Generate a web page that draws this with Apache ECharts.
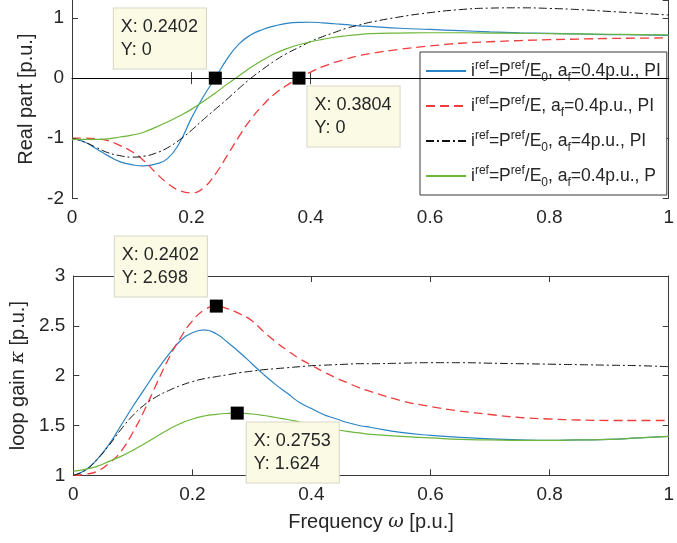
<!DOCTYPE html>
<html>
<head>
<meta charset="utf-8">
<script src="https://cdn.jsdelivr.net/npm/echarts@6/dist/echarts.min.js"></script>
<style>
  html, body { margin: 0; padding: 0; background: #ffffff; }
  #chart { width: 677px; height: 543px; }
</style>
</head>
<body>
<div id="chart"></div>
<script>
// Frequency grid [p.u.]
const freq = [0, 0.02, 0.04, 0.06, 0.08, 0.10, 0.12, 0.14, 0.16, 0.18,
              0.20, 0.22, 0.24, 0.26, 0.28, 0.30, 0.32, 0.34, 0.36, 0.38,
              0.40, 0.42, 0.44, 0.46, 0.48, 0.50, 0.55, 0.60, 0.65, 0.70,
              0.75, 0.80, 0.85, 0.90, 0.95, 1.00];

// Real part [p.u.]
const reBlue  = [-1.00, -1.06, -1.17, -1.29, -1.39, -1.44, -1.46, -1.43, -1.34, -1.08,
                 -0.67, -0.31, 0.00, 0.32, 0.57, 0.72, 0.81, 0.87, 0.91, 0.927,
                 0.93, 0.92, 0.905, 0.89, 0.87, 0.86, 0.83, 0.81, 0.79, 0.77,
                 0.755, 0.745, 0.735, 0.725, 0.72, 0.71];
const reRed   = [-1.00, -1.00, -1.01, -1.04, -1.12, -1.22, -1.37, -1.57, -1.75, -1.87,
                 -1.91, -1.83, -1.60, -1.29, -0.97, -0.68, -0.45, -0.26, -0.12, 0.00,
                 0.10, 0.19, 0.26, 0.32, 0.37, 0.41, 0.48, 0.535, 0.58, 0.605,
                 0.625, 0.64, 0.65, 0.66, 0.665, 0.67];
const reBlack = [-1.00, -1.06, -1.15, -1.24, -1.29, -1.315, -1.30, -1.25, -1.16, -1.03,
                 -0.87, -0.69, -0.52, -0.35, -0.17, 0.00, 0.15, 0.29, 0.41, 0.51,
                 0.61, 0.69, 0.76, 0.83, 0.88, 0.93, 1.02, 1.09, 1.14, 1.165,
                 1.17, 1.16, 1.14, 1.11, 1.08, 1.05];
const reGreen = [-1.02, -1.02, -1.02, -1.01, -0.98, -0.95, -0.90, -0.82, -0.73, -0.63,
                 -0.52, -0.39, -0.25, -0.10, 0.04, 0.18, 0.30, 0.41, 0.49, 0.555,
                 0.605, 0.645, 0.68, 0.705, 0.725, 0.74, 0.75, 0.755, 0.755, 0.75,
                 0.745, 0.74, 0.735, 0.73, 0.725, 0.72];

// Loop gain kappa [p.u.]
const kBlue  = [1.00, 1.05, 1.16, 1.31, 1.50, 1.69, 1.87, 2.05, 2.21, 2.35,
                2.43, 2.46, 2.42, 2.33, 2.23, 2.12, 2.01, 1.91, 1.82, 1.73,
                1.67, 1.61, 1.57, 1.53, 1.50, 1.48, 1.43, 1.40, 1.38, 1.365,
                1.355, 1.35, 1.355, 1.36, 1.375, 1.39];
const kRed   = [1.00, 1.01, 1.04, 1.12, 1.24, 1.43, 1.66, 1.92, 2.17, 2.38,
                2.55, 2.66, 2.698, 2.67, 2.62, 2.55, 2.44, 2.34, 2.25, 2.17,
                2.105, 2.04, 1.98, 1.93, 1.88, 1.84, 1.75, 1.69, 1.645, 1.61,
                1.58, 1.565, 1.555, 1.55, 1.55, 1.55];
const kBlack = [1.00, 1.05, 1.16, 1.30, 1.46, 1.60, 1.71, 1.79, 1.85, 1.90,
                1.94, 1.97, 1.99, 2.01, 2.03, 2.045, 2.06, 2.07, 2.08, 2.09,
                2.10, 2.105, 2.11, 2.115, 2.12, 2.12, 2.125, 2.13, 2.13, 2.125,
                2.12, 2.115, 2.11, 2.105, 2.10, 2.09];
const kGreen = [1.04, 1.06, 1.09, 1.14, 1.19, 1.25, 1.32, 1.39, 1.46, 1.52,
                1.565, 1.595, 1.612, 1.621, 1.624, 1.615, 1.60, 1.58, 1.56, 1.535,
                1.51, 1.485, 1.46, 1.44, 1.425, 1.41, 1.39, 1.375, 1.36, 1.355,
                1.35, 1.35, 1.355, 1.36, 1.375, 1.39];

// Data tips
const tipReX = [0.2402, 0.3804];
const tipReY = [0, 0];
const tipKX  = [0.2402, 0.2753];
const tipKY  = [2.698, 1.624];

// Axis ticks
const xTicks = [0, 0.2, 0.4, 0.6, 0.8, 1];
const reTicks = [-2, -1, 0, 1];
const kTicks = [1, 1.5, 2, 2.5, 3];

// Legend entries (rich text: sup = superscript, sub = subscript)
const names = [
  'i{sup|ref}=P{sup|ref}/E{sub|0}, a{sub|f}=0.4p.u., PI',
  'i{sup|ref}=P{sup|ref}/E, a{sub|f}=0.4p.u., PI',
  'i{sup|ref}=P{sup|ref}/E{sub|0}, a{sub|f}=4p.u., PI',
  'i{sup|ref}=P{sup|ref}/E{sub|0}, a{sub|f}=0.4p.u., P'
];

const FONT = '"Liberation Sans", Arial, Helvetica, sans-serif';
const SERIF = '"DejaVu Serif", "Liberation Serif", serif';
const AX = '#3a3a3a';
const TXT = '#262626';
const styles = [
  { color: '#2a84c6', width: 1.2, type: 'solid' },
  { color: '#f03c3c', width: 1.3, type: [9, 5] },
  { color: '#111111', width: 1.0, type: [8, 3, 2, 3] },
  { color: '#6cb63a', width: 1.2, type: 'solid' }
];

const zip = (xs, ys) => xs.map((x, i) => [x, ys[i]]);

function lineSeries(idx, ys, gridIdx) {
  const s = styles[idx];
  return {
    type: 'line', name: names[idx],
    xAxisIndex: gridIdx * 2, yAxisIndex: gridIdx * 2,
    data: zip(freq, ys),
    symbol: 'none', smooth: 0.5,
    lineStyle: { color: s.color, width: s.width, type: s.type },
    itemStyle: { color: s.color },
    z: 3
  };
}

const tipLabel = {
  show: true,
  formatter: p => 'X: ' + p.value[0] + '\nY: ' + p.value[1],
  align: 'left', verticalAlign: 'top',
  fontFamily: FONT, fontSize: 18, lineHeight: 23, color: TXT,
  backgroundColor: '#fbfbe5', borderColor: '#d6d6c6', borderWidth: 1,
  padding: [7, 8, 7, 7]
};

function tipSeries(xs, ys, gridIdx, positions) {
  return {
    type: 'scatter', name: 'tip' + gridIdx,
    xAxisIndex: gridIdx * 2, yAxisIndex: gridIdx * 2,
    symbol: 'rect', symbolSize: 13,
    itemStyle: { color: '#000000', opacity: 1 },
    label: tipLabel,
    clip: false, z: 10,
    data: xs.map((x, i) => ({ value: [x, ys[i]], label: { position: positions[i] } }))
  };
}

function xAxis(gridIdx, bottom) {
  return {
    gridIndex: gridIdx, type: 'value', min: xTicks[0], max: xTicks[xTicks.length - 1], interval: 0.2,
    position: bottom ? 'bottom' : 'top',
    axisLine: { show: true, lineStyle: { color: AX, width: 1 } },
    axisTick: { show: true, inside: true, length: 6, lineStyle: { color: AX } },
    axisLabel: { show: bottom, fontFamily: FONT, fontSize: 19, color: TXT, margin: 10 },
    splitLine: { show: false }
  };
}

function yAxis(gridIdx, left, min, max, interval, name, gap) {
  const a = {
    gridIndex: gridIdx, type: 'value', min: min, max: max, interval: interval,
    position: left ? 'left' : 'right',
    axisLine: { show: true, onZero: false, lineStyle: { color: AX, width: 1 } },
    axisTick: { show: true, inside: true, length: 6, lineStyle: { color: AX } },
    axisLabel: { show: left, fontFamily: FONT, fontSize: 19, color: TXT, margin: 8, showMaxLabel: max === 3 },
    splitLine: { show: false }
  };
  if (left && name) {
    a.name = name;
    a.nameLocation = 'middle';
    a.nameGap = gap;
    a.nameTextStyle = {
      fontFamily: FONT, fontSize: 20, color: TXT,
      rich: { g: { fontFamily: SERIF, fontStyle: 'italic', fontSize: 19, color: TXT } }
    };
  }
  return a;
}

const xAxes = [xAxis(0, true), xAxis(0, false), xAxis(1, true), xAxis(1, false)];
xAxes[2].name = 'Frequency {w|ω} [p.u.]';
xAxes[2].nameLocation = 'middle';
xAxes[2].nameGap = 37;
xAxes[2].nameTextStyle = {
  fontFamily: FONT, fontSize: 20, color: TXT,
  rich: { w: { fontFamily: SERIF, fontStyle: 'italic', fontSize: 19, color: TXT } }
};

const yAxes = [
  yAxis(0, true, reTicks[0], 1.3, 1, 'Real part [p.u.]', 27),
  yAxis(0, false, reTicks[0], 1.3, 1),
  yAxis(1, true, kTicks[0], kTicks[kTicks.length - 1], 0.5, 'loop gain {g|κ} [p.u.]', 35),
  yAxis(1, false, kTicks[0], kTicks[kTicks.length - 1], 0.5)
];

const reSets = [reBlue, reRed, reBlack, reGreen];
const kSets = [kBlue, kRed, kBlack, kGreen];

const series = [];
reSets.forEach((ys, i) => series.push(lineSeries(i, ys, 0)));
kSets.forEach((ys, i) => series.push(lineSeries(i, ys, 1)));

// zero reference line in the upper plot
series[0].markLine = {
  silent: true, symbol: ['none', 'none'], animation: false,
  label: { show: false },
  lineStyle: { color: '#000000', width: 1, type: 'solid' },
  data: [{ yAxis: 0 }]
};

series.push(tipSeries(tipReX, tipReY, 0, [[-95, -63], [15, 15]]));
series.push(tipSeries(tipKX, tipKY, 1, [[-95, -63], [16, 16]]));

const chart = echarts.init(document.getElementById('chart'), null, { renderer: 'canvas' });
chart.setOption({
  animation: false,
  backgroundColor: '#ffffff',
  textStyle: { fontFamily: FONT },
  grid: [
    { left: 72, right: 5, top: -1, height: 199.3 },
    { left: 72, right: 5, top: 276, height: 199.3 }
  ],
  xAxis: xAxes,
  yAxis: yAxes,
  legend: {
    data: names,
    orient: 'vertical',
    left: 420, top: 52,
    itemWidth: 40, itemHeight: 14, itemGap: 9,
    padding: [6, 6, 6, 5],
    backgroundColor: '#ffffff',
    borderColor: AX, borderWidth: 1, borderRadius: 0,
    selectedMode: false,
    itemStyle: { opacity: 0 },
    textStyle: {
      fontFamily: FONT, fontSize: 17.5, color: TXT, lineHeight: 26,
      rich: {
        sup: { fontFamily: FONT, fontSize: 12, color: TXT, verticalAlign: 'top', lineHeight: 14, padding: [2, 0, 0, 0] },
        sub: { fontFamily: FONT, fontSize: 12, color: TXT, verticalAlign: 'bottom', lineHeight: 14 }
      }
    }
  },
  series: series
});
</script>
</body>
</html>
